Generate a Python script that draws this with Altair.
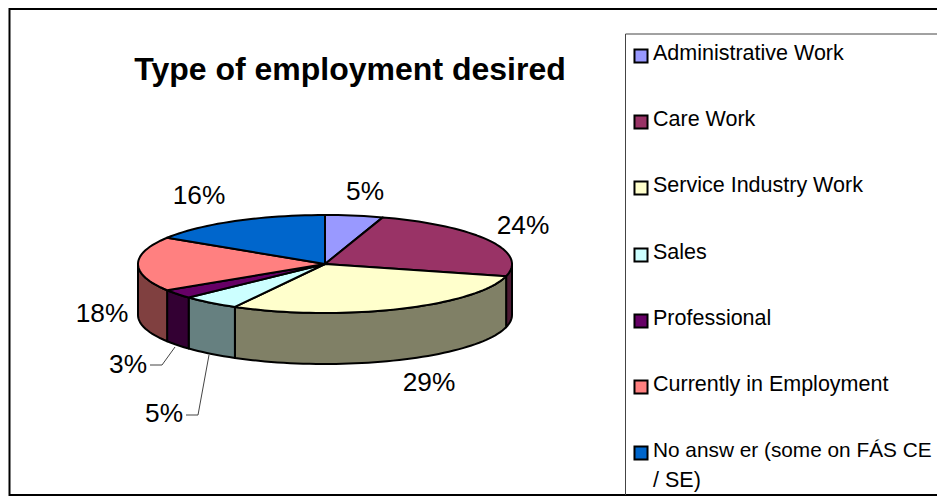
import math
import altair as alt
import pandas as pd

# ---- data ----
categories = ["Administrative Work", "Care Work", "Service Industry Work", "Sales",
              "Professional", "Currently in Employment", "No answer (some on FÁS CE / SE)"]
values = [5, 24, 29, 5, 3, 18, 16]
top_colors = ["#9999FF", "#993366", "#FFFFCC", "#CCFFFF", "#660066", "#FF8080", "#0066CC"]
side_colors = ["#4D4D80", "#4D1A33", "#808066", "#668080", "#330033", "#804040", "#003366"]
title_text = "Type of employment desired"

# ---- layout, in picture pixels ----
CX, CY, RX, RY, DEPTH = 325, 264, 187, 49, 51
FONT = "Liberation Sans"
X = alt.Scale(domain=[8, 937], range=[0, 929], nice=False, zero=False)
Y = alt.Scale(domain=[8, 497], range=[0, 489], nice=False, zero=False)
label_xy = [(365, 192), (523, 226), (429, 383), (164, 414), (128, 365), (102, 314), (199, 196)]
legend_rows = [54, 120, 186, 253, 319, 385, 451]
legend_lines = [["Administrative Work"], ["Care Work"], ["Service Industry Work"], ["Sales"],
                ["Professional"], ["Currently in Employment"], ["No answ er (some on FÁS CE", "/ SE)"]]
LINE_GAP = 30
LEGEND_SIZE = 21.5
LONG_LINE_SIZE = 20.8


def rim(deg, dy=0.0):
    r = math.radians(deg)
    return CX + RX * math.sin(r), CY - RY * math.cos(r) + dy


def sweep(a, b):
    n = max(2, int(abs(b - a) / 2) + 1)
    return [a + (b - a) * i / (n - 1) for i in range(n)]


def xenc():
    return alt.X("x:Q", scale=X, axis=None)


def yenc():
    return alt.Y("y:Q", scale=Y, axis=None)


def poly(points, fill, stroke="black", sw=2.0):
    df = pd.DataFrame([{"x": p[0], "y": p[1], "i": i} for i, p in enumerate(points)])
    return alt.Chart(df).mark_line(
        interpolate="linear-closed", fill=fill, stroke=stroke, strokeWidth=sw, strokeJoin="round", clip=False
    ).encode(x=xenc(), y=yenc(), order="i:Q")


def path(points, color, sw):
    df = pd.DataFrame([{"x": p[0], "y": p[1], "i": i} for i, p in enumerate(points)])
    return alt.Chart(df).mark_line(color=color, strokeWidth=sw).encode(x=xenc(), y=yenc(), order="i:Q")


layers = []
edges = []
acc = 0
for v in values:
    edges.append((acc * 3.6, (acc + v) * 3.6))
    acc += v

# side walls
for (a, b), col in zip(edges, side_colors):
    lo, hi = max(a, 90), min(b, 270)
    if lo < hi:
        angs = sweep(lo, hi)
        pts = [rim(t) for t in angs] + [rim(t, DEPTH) for t in reversed(angs)]
        layers.append(poly(pts, col))

# top faces
for (a, b), col in zip(edges, top_colors):
    layers.append(poly([(CX, CY)] + [rim(t) for t in sweep(a, b)], col))

# leader lines
layers.append(path([(150, 365), (162, 365), (175, 347)], "#444444", 1))
layers.append(path([(186, 415), (198, 415), (209, 355)], "#444444", 1))

# percentage labels
lab = pd.DataFrame({"t": [f"{v}%" for v in values],
                    "x": [p[0] for p in label_xy], "y": [p[1] for p in label_xy]})
layers.append(alt.Chart(lab).mark_text(font=FONT, fontSize=26.3, color="black").encode(
    x=xenc(), y=yenc(), text="t:N"))

# title
layers.append(alt.Chart(pd.DataFrame({"t": [title_text], "x": [350], "y": [70]})).mark_text(
    font=FONT, fontSize=32, fontWeight="bold", color="black").encode(x=xenc(), y=yenc(), text="t:N"))

# outer frame
layers.append(path([(937, 9), (9.5, 9), (9.5, 495), (937, 495)], "black", 2))
# legend box
layers.append(path([(937, 34), (625.5, 34), (625.5, 495)], "#444444", 1))

# legend
rows = []
for cat, col, y0, ls in zip(categories, top_colors, legend_rows, legend_lines):
    rows.append({"x": 641, "y": y0 + 2, "c": col})
sq = pd.DataFrame(rows)
layers.append(alt.Chart(sq).mark_point(shape="square", filled=True, size=170, stroke="black", strokeWidth=2, opacity=1).encode(
    x=xenc(), y=yenc(), fill=alt.Fill("c:N", scale=None)))
txt = []
for y0, ls in zip(legend_rows, legend_lines):
    for k, s in enumerate(ls):
        fs = LONG_LINE_SIZE if len(s) > 25 else LEGEND_SIZE
        txt.append({"x": 653, "y": y0 + k * LINE_GAP, "t": s, "fs": fs})
txt_df = pd.DataFrame(txt)
for fs in [LEGEND_SIZE, LONG_LINE_SIZE]:
    layers.append(alt.Chart(txt_df[txt_df.fs == fs]).mark_text(font=FONT, fontSize=fs, align="left", color="black").encode(
        x=xenc(), y=yenc(), text="t:N"))

chart = alt.layer(*layers).properties(
    width=929, height=489, padding=0, autosize=alt.AutoSizeParams(type="none"), background="white"
).configure_view(stroke=None)

chart.save("out.html", embed_options={"renderer": "svg", "actions": False})
